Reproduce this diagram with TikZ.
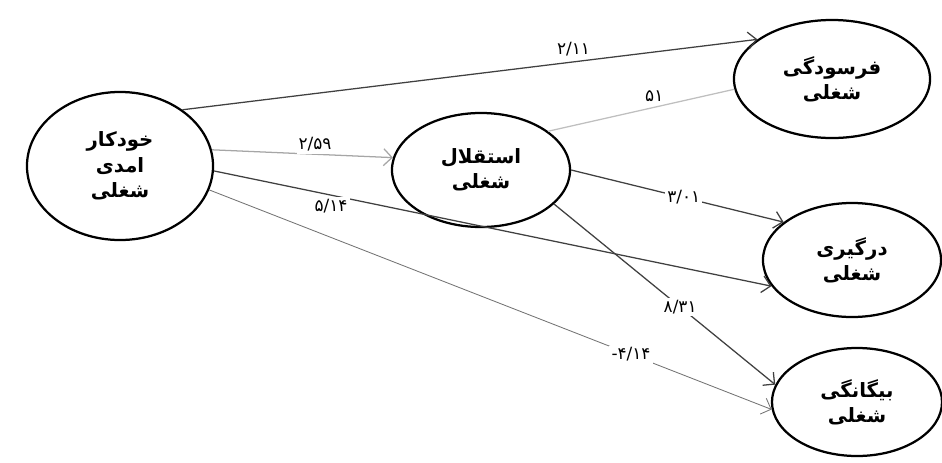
\documentclass[tikz,border=0pt]{standalone}
\usepackage{fontspec}
\usetikzlibrary{arrows.meta, shapes.geometric}
\TeXXeTstate=1
\newfontfamily\farsi[Script=Arabic]{DejaVu Sans}
\newfontfamily\latn{DejaVu Sans}
\newcommand{\fa}[1]{{\farsi\beginR #1\endR}}

\begin{document}
\begin{tikzpicture}[x=0.025cm, y=-0.025cm, every node/.style={font=\farsi}]
\tikzset{lat/.style={ellipse, draw, line width=1.6pt, inner sep=0pt, align=center, font=\farsi\bfseries\fontsize{14}{18}\selectfont},
  coef/.style={font=\farsi\fontsize{12}{14}\selectfont, fill=white, inner sep=1.5pt},
  lnk/.style={-{Straight Barb[length=6pt]}, line width=0.9pt, draw=black!75}}
\useasboundingbox (0,0) rectangle (942,462);
\node[lat, minimum width=4.65cm, minimum height=3.7cm] (eff) at (120,166) {\fa{خودکار}\\\fa{امدی}\\\fa{شغلی}};
\node[lat, minimum width=4.45cm, minimum height=2.85cm] (aut) at (481,170) {\fa{استقلال}\\\fa{شغلی}};
\node[lat, minimum width=4.9cm, minimum height=2.95cm] (brn) at (832,79) {\fa{فرسودگی}\\\fa{شغلی}};
\node[lat, minimum width=4.45cm, minimum height=2.85cm] (eng) at (852,260) {\fa{درگیری}\\\fa{شغلی}};
\node[lat, minimum width=4.25cm, minimum height=2.7cm] (ali) at (857,402) {\fa{بیگانگی}\\\fa{شغلی}};
% paths from self-efficacy
\draw[lnk] (eff.42) -- node[coef, above=2pt, pos=0.68] {۲/۱۱} (brn.152);
\draw[lnk, draw=black!35] (eff.10) -- node[coef, above=0pt, pos=0.57] {۲/۵۹} (aut.172);
\draw[lnk] (eff.-3) -- node[coef, below=1pt, pos=0.21] {۵/۱۴} (eng.198);
\draw[lnk, line width=0.6pt, draw=black!55] (eff.-15) -- node[coef, pos=0.75] {{\latn -}۴/۱۴} (ali.185);
% paths from autonomy
\draw[line width=0.9pt, draw=black!25] (aut.30) -- node[coef, above=2pt, pos=0.57] {۵۱} (brn.186);
\draw[lnk] (aut.east) -- node[coef, pos=0.53] {۳/۰۱} (eng.151);
\draw[lnk] (aut.-25) -- node[coef, pos=0.57] {۸/۳۱} (ali.168);
\end{tikzpicture}
\end{document}
